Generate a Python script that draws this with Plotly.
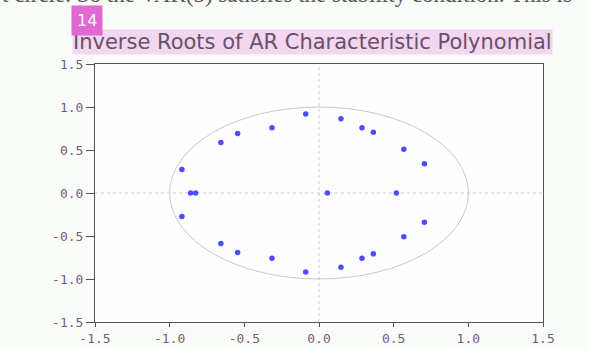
import plotly.graph_objects as go

root_re = [-0.089, 0.147, 0.288, 0.364, 0.568, 0.706, -0.315, -0.545, -0.657, -0.918,
           -0.089, 0.147, 0.288, 0.364, 0.568, 0.706, -0.315, -0.545, -0.657, -0.918,
           0.518, 0.056, -0.860, -0.826]
root_im = [0.918, 0.862, 0.760, 0.707, 0.508, 0.341, 0.760, 0.691, 0.586, 0.272,
           -0.918, -0.862, -0.760, -0.707, -0.508, -0.341, -0.760, -0.691, -0.586, -0.272,
           0.0, 0.0, 0.0, 0.0]
tick_vals = [-1.5, -1.0, -0.5, 0.0, 0.5, 1.0, 1.5]
tick_text = ["-1.5", "-1.0", "-0.5", "0.0", "0.5", "1.0", "1.5"]

title_text = "Inverse Roots of AR Characteristic Polynomial"
top_text = "t circle. So the VAR(3) satisfies the stability condition. This is"

fig = go.Figure()
fig.add_trace(go.Scatter(x=root_re, y=root_im, mode="markers",
                         marker=dict(color="#4d4dff", size=5.5, line=dict(width=0)),
                         showlegend=False, hoverinfo="x+y"))

# unit circle
fig.add_shape(type="circle", xref="x", yref="y", x0=-1, y0=-1, x1=1, y1=1,
              line=dict(color="#c8c8c8", width=1), layer="below")
# dashed zero lines
fig.add_shape(type="line", xref="x", yref="paper", x0=0, x1=0, y0=0, y1=1,
              line=dict(color="#cccccc", width=1, dash="dot"), layer="below")
fig.add_shape(type="line", xref="paper", yref="y", x0=0, x1=1, y0=0, y1=0,
              line=dict(color="#cccccc", width=1, dash="dot"), layer="below")

tick_font = dict(family="DejaVu Sans Mono", size=13, color="#7a5a78")
axis_common = dict(range=[-1.5, 1.5], tickvals=tick_vals, ticktext=tick_text,
                   showgrid=False, zeroline=False, showline=True, mirror=True,
                   linecolor="#555555", linewidth=1, ticks="outside",
                   tickcolor="#555555", tickfont=tick_font, automargin=False)

fig.update_layout(
    width=589, height=350,
    margin=dict(l=95, r=46, t=64, b=28),
    paper_bgcolor="#fafcfa", plot_bgcolor="#fdfefd",
    xaxis=dict(axis_common, ticklen=4),
    yaxis=dict(axis_common, ticklen=8),
    annotations=[
        dict(text=title_text, xref="paper", yref="paper", x=-0.051, y=1.085,
             xanchor="left", yanchor="middle", showarrow=False, bgcolor="#f3d6f0",
             borderpad=0,
             font=dict(family="DejaVu Sans", size=21, color="#6a5068")),
        dict(text="14", xref="paper", yref="paper", x=-0.054, y=1.169,
             xanchor="left", yanchor="middle", showarrow=False, bgcolor="#e068d0",
             borderpad=5, font=dict(family="DejaVu Sans", size=16, color="white")),
        dict(text=top_text, xref="paper", yref="paper", x=-0.212, y=1.213,
             xanchor="left", yanchor="bottom", showarrow=False,
             font=dict(family="Liberation Serif", size=23, color="#555555")),
    ],
)

fig.write_html("out.html", config={"displayModeBar": False},
               post_script="document.body.style.margin='0px';")
